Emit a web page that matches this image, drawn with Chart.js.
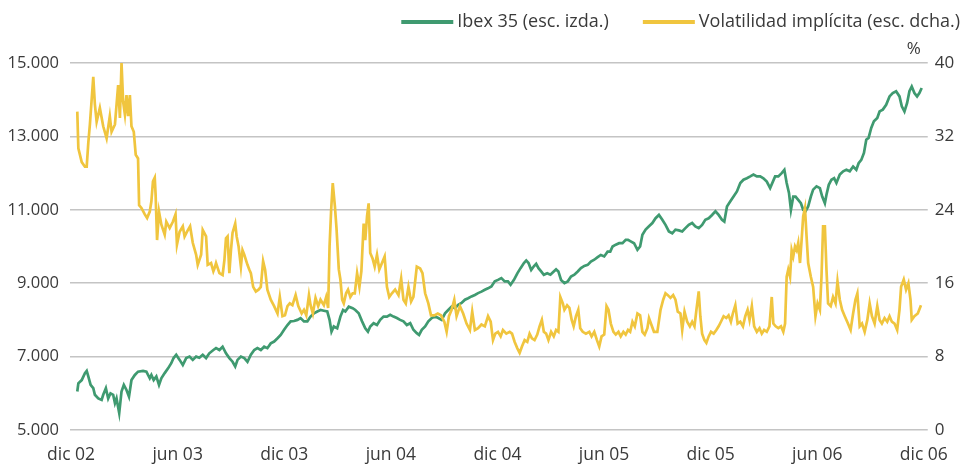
<!DOCTYPE html>
<html lang="es">
<head>
<meta charset="utf-8">
<title>Ibex 35 y volatilidad implícita</title>
<script src="https://cdn.jsdelivr.net/npm/chart.js@4.4.1/dist/chart.umd.min.js"></script>
<style>
  html, body { margin: 0; padding: 0; background: #fff; }
</style>
</head>
<body>
<canvas id="grafico" width="963" height="466"></canvas>
<script>
// Eje X: meses transcurridos desde dic 02
const ibexMes = [
  0.35, 0.41, 0.60, 0.78, 0.88, 0.97, 1.10, 1.25, 1.34, 1.53, 1.72, 1.81, 1.96, 2.09, 2.22, 2.37, 2.47, 2.56, 2.71, 2.84,
  2.97, 3.12, 3.26, 3.40, 3.59, 3.77, 4.05, 4.24, 4.43, 4.52, 4.65, 4.80, 4.95, 5.08, 5.27, 5.46, 5.64, 5.77, 5.92, 6.11,
  6.29, 6.48, 6.67, 6.85, 7.04, 7.22, 7.41, 7.60, 7.78, 8.01,
  8.16, 8.35, 8.53, 8.72, 8.91, 9.09, 9.24, 9.37, 9.56, 9.75, 9.93, 10.12, 10.31, 10.49, 10.68, 10.87, 11.05, 11.24, 11.43, 11.62,
  11.80, 11.99, 12.18, 12.36, 12.55, 12.74, 12.92, 13.11, 13.30, 13.48, 13.67, 13.86, 14.04, 14.23, 14.42, 14.55, 14.66, 14.79, 14.98, 15.16,
  15.31, 15.44, 15.63, 15.85,
  16.00, 16.19, 16.38, 16.56, 16.71, 16.84, 17.03, 17.22, 17.40, 17.59, 17.78, 17.96, 18.15, 18.34, 18.52, 18.71, 18.90, 19.09, 19.27, 19.46,
  19.59, 19.74, 19.93, 20.11, 20.30, 20.49, 20.67, 20.86, 21.05, 21.23, 21.42, 21.61, 21.79, 21.98, 22.17, 22.35, 22.54, 22.73, 22.91, 23.10,
  23.29, 23.47,
  23.66, 23.85, 24.03, 24.22, 24.41, 24.59, 24.74, 24.93, 25.12, 25.30, 25.49, 25.62, 25.75, 25.90, 26.05, 26.18, 26.31, 26.46, 26.61, 26.80,
  26.98, 27.17, 27.30, 27.43, 27.58, 27.77, 27.96, 28.14, 28.33, 28.52, 28.70, 28.89, 29.08, 29.26, 29.45, 29.64, 29.82, 30.01, 30.20, 30.35,
  30.48, 30.66, 30.85, 31.04, 31.22, 31.35,
  31.50, 31.69, 31.88, 32.03, 32.16, 32.34, 32.53, 32.72, 32.90, 33.09, 33.28, 33.46, 33.65, 33.84, 34.02, 34.21, 34.40, 34.58, 34.77, 34.96,
  35.14, 35.33, 35.52, 35.70, 35.89, 36.08, 36.27, 36.45, 36.64, 36.77, 36.92, 37.11, 37.29, 37.48, 37.67, 37.85, 38.04, 38.23, 38.41, 38.60,
  38.79, 38.97, 39.16, 39.35,
  39.63, 39.81, 40.00, 40.15, 40.28, 40.41, 40.52, 40.65, 40.78, 40.93, 41.08, 41.21, 41.34, 41.49, 41.64, 41.77, 41.96, 42.15, 42.28, 42.43,
  42.52, 42.65, 42.80, 42.95, 43.08, 43.27, 43.46, 43.64, 43.83, 44.02, 44.20, 44.33, 44.48, 44.63, 44.76, 44.89, 45.04, 45.19, 45.38, 45.51,
  45.69, 45.88, 46.07, 46.25, 46.44, 46.63, 46.76, 46.91, 47.06, 47.19, 47.32, 47.47, 47.62, 47.75, 47.88
];
const ibex = [
  6050, 6270, 6360, 6550, 6610, 6460, 6230, 6140, 5960, 5860, 5820, 5960, 6140, 5860, 6000, 5960, 5730, 5860, 5460, 6050,
  6230, 6090, 5910, 6360, 6500, 6590, 6610, 6590, 6410, 6500, 6360, 6460, 6230, 6410, 6550, 6680, 6820, 6960, 7050, 6910,
  6770, 6960, 7000, 6910, 7000, 6970, 7050, 6960, 7090, 7180,
  7230, 7180, 7270, 7090, 6960, 6860, 6730, 6910, 7000, 6960, 6860, 7050, 7180, 7230, 7180, 7270, 7230, 7360, 7410, 7500,
  7590, 7730, 7860, 7960, 7970, 8000, 8050, 7960, 7960, 8090, 8180, 8230, 8270, 8250, 8230, 8000, 7680, 7820, 7770, 8090,
  8270, 8230, 8360, 8320,
  8270, 8180, 7960, 7770, 7680, 7820, 7910, 7860, 8000, 8090, 8090, 8140, 8090, 8050, 8000, 7960, 7860, 7910, 7730, 7640,
  7590, 7730, 7820, 7960, 8050, 8090, 8050, 8000, 8180, 8270, 8360, 8320, 8410, 8460, 8550, 8590, 8640, 8680, 8730, 8770,
  8820, 8860,
  8910, 9050, 9090, 9140, 9050, 9050, 8960, 9090, 9270, 9410, 9550, 9620, 9550, 9360, 9460, 9530, 9410, 9320, 9230, 9270,
  9230, 9320, 9380, 9320, 9090, 9000, 9050, 9180, 9230, 9320, 9410, 9470, 9500, 9590, 9640, 9710, 9770, 9730, 9860, 9860,
  10000, 10050, 10090, 10090, 10180, 10180,
  10140, 10090, 9910, 10000, 10320, 10460, 10550, 10640, 10770, 10860, 10730, 10590, 10410, 10360, 10460, 10440, 10410, 10500, 10590, 10640,
  10550, 10500, 10590, 10730, 10770, 10860, 10960, 10860, 10730, 10680, 11090, 11230, 11360, 11500, 11730, 11820, 11860, 11910, 11960, 11910,
  11910, 11860, 11770, 11590,
  11910, 11910, 12000, 12090, 11730, 11460, 11000, 11360, 11360, 11270, 11180, 11000, 10960, 11090, 11360, 11550, 11640, 11590, 11360, 11180,
  11410, 11680, 11820, 11860, 11730, 11960, 12050, 12090, 12050, 12180, 12090, 12270, 12360, 12550, 12910, 12960, 13230, 13410, 13500, 13680,
  13730, 13860, 14090, 14180, 14230, 14090, 13820, 13680, 13910, 14230, 14360, 14180, 14090, 14180, 14320
];

const volMes = [
  0.35, 0.41, 0.60, 0.78, 0.88, 0.97, 1.06, 1.25, 1.34, 1.44, 1.62, 1.81, 2.00, 2.18, 2.28, 2.47, 2.65, 2.75, 2.84, 2.93,
  3.03, 3.12, 3.21, 3.31, 3.40, 3.53, 3.64, 3.77, 3.83, 3.96, 4.15, 4.28, 4.43, 4.52, 4.61, 4.71, 4.76, 4.84, 4.95, 5.08,
  5.27, 5.36, 5.55, 5.73, 5.88, 5.96, 6.11, 6.29, 6.39, 6.52, 6.70, 6.85, 7.04, 7.13, 7.32, 7.41, 7.60, 7.69, 7.88, 8.01,
  8.07, 8.16, 8.35, 8.53, 8.63, 8.72, 8.81, 8.91, 9.00, 9.09, 9.24, 9.32, 9.43, 9.56, 9.65, 9.75, 9.93, 10.03, 10.12, 10.25,
  10.40, 10.55, 10.68, 10.81, 10.92, 11.05, 11.24, 11.43, 11.62, 11.75, 11.90, 12.04, 12.18, 12.31, 12.46, 12.64, 12.79, 12.98, 13.11, 13.24,
  13.39, 13.48, 13.61, 13.76, 13.91, 14.04, 14.23, 14.36, 14.47, 14.55, 14.64, 14.73, 14.85, 14.94, 15.07, 15.16, 15.26, 15.35, 15.48, 15.59,
  15.72, 15.85,
  15.97, 16.10, 16.23, 16.34, 16.47, 16.56, 16.66, 16.75, 16.84, 16.97, 17.09, 17.22, 17.35, 17.50, 17.65, 17.78, 17.91, 18.06, 18.24, 18.43,
  18.58, 18.71, 18.84, 18.99, 19.14, 19.27, 19.46, 19.65, 19.78, 19.93, 20.11, 20.26, 20.45, 20.64, 20.82, 21.01, 21.14, 21.27, 21.42, 21.57,
  21.70, 21.89, 22.07, 22.26, 22.45, 22.58, 22.73, 22.91, 23.10, 23.29, 23.47, 23.62,
  23.75, 23.88, 24.03, 24.18, 24.31, 24.50, 24.69, 24.82, 24.97, 25.12, 25.25, 25.38, 25.53, 25.68, 25.81, 25.94, 26.09, 26.24, 26.37, 26.50,
  26.61, 26.74, 26.87, 27.02, 27.17, 27.30, 27.43, 27.54, 27.68, 27.77, 27.92, 28.05, 28.18, 28.29, 28.42, 28.55, 28.66, 28.80, 28.98, 29.17,
  29.30, 29.45, 29.60, 29.73, 29.86, 30.01, 30.14, 30.25, 30.38, 30.53, 30.66, 30.81, 30.94, 31.09, 31.22, 31.35,
  31.47, 31.60, 31.73, 31.88, 32.03, 32.16, 32.29, 32.44, 32.53, 32.66, 32.81, 33.00, 33.18, 33.33, 33.46, 33.59, 33.74, 33.89, 34.02, 34.15,
  34.30, 34.40, 34.53, 34.68, 34.83, 34.96, 35.09, 35.20, 35.33, 35.42, 35.52, 35.65, 35.76, 35.89, 36.02, 36.17, 36.32, 36.45, 36.58, 36.73,
  36.88, 37.01, 37.14, 37.25, 37.39, 37.52, 37.67, 37.82, 37.95, 38.08, 38.19, 38.32, 38.45, 38.60, 38.75, 38.88, 39.01, 39.16, 39.31, 39.44,
  39.53, 39.66, 39.81, 39.96, 40.09, 40.19, 40.28, 40.37, 40.47, 40.56, 40.65, 40.75, 40.84, 40.93, 41.03, 41.12, 41.21, 41.31, 41.40, 41.49,
  41.64, 41.77, 41.90, 42.02, 42.15, 42.24, 42.33, 42.43, 42.52, 42.61, 42.76, 42.89, 43.03, 43.14, 43.27, 43.40, 43.55, 43.73, 43.88, 44.02,
  44.15, 44.26, 44.39, 44.52, 44.67, 44.82, 44.95, 45.08, 45.23, 45.38, 45.51, 45.64, 45.79, 45.94, 46.07, 46.20, 46.35, 46.50, 46.63, 46.72,
  46.87, 47.00, 47.13, 47.25, 47.32, 47.47, 47.66, 47.84
];
const vol = [
  34.7, 30.7, 29.2, 28.7, 28.7, 31.3, 33.3, 38.5, 35.5, 33.6, 35.1, 33.1, 31.8, 34.2, 32.5, 33.3, 37.6, 34.0, 40.0, 35.8,
  34.4, 36.5, 34.2, 36.5, 33.1, 32.5, 30.0, 29.6, 24.5, 24.2, 23.5, 23.1, 23.8, 24.9, 27.1, 27.5, 25.6, 20.7, 23.8, 22.4,
  21.3, 22.7, 22.0, 22.7, 23.5, 20.2, 21.6, 22.2, 21.1, 21.6, 22.2, 20.4, 19.1, 18.0, 19.1, 21.8, 21.1, 18.0, 18.2, 17.3,
  17.6, 18.2, 17.1, 16.9, 18.5, 20.9, 21.1, 17.1, 19.6, 21.5, 22.5, 21.1, 20.0, 17.8, 19.6, 19.1, 18.0, 17.5, 17.1, 15.6,
  15.1, 15.3, 15.6, 18.4, 17.5, 15.3, 14.2, 13.5, 12.7, 14.5, 12.4, 12.5, 13.5, 13.8, 13.6, 14.7, 13.5, 12.7, 13.1, 12.5,
  14.7, 13.6, 12.7, 14.4, 13.5, 14.2, 13.6, 14.5, 13.3, 20.0, 24.0, 26.9, 24.4, 22.0, 17.5, 16.4, 14.2, 13.8, 14.9, 15.3,
  14.5, 14.9,
  14.9, 17.1, 15.6, 17.3, 22.5, 20.7, 23.3, 24.7, 19.3, 18.7, 17.8, 19.1, 17.5, 18.2, 18.9, 15.6, 14.5, 14.9, 15.3, 14.7,
  16.5, 14.2, 13.8, 15.6, 14.0, 14.5, 17.8, 17.6, 17.1, 14.9, 13.8, 12.5, 12.5, 12.7, 12.5, 11.8, 10.7, 12.4, 13.1, 14.2,
  12.4, 13.5, 12.7, 11.6, 10.9, 12.9, 10.9, 11.1, 11.5, 11.3, 12.4, 11.8,
  9.8, 10.5, 10.7, 10.2, 10.9, 10.5, 10.7, 10.5, 9.6, 8.9, 8.4, 9.1, 9.8, 9.6, 10.5, 10.0, 9.8, 10.4, 11.3, 12.0,
  10.7, 10.5, 9.8, 10.7, 10.2, 10.9, 10.7, 14.5, 13.8, 13.1, 13.6, 13.3, 12.0, 11.3, 12.4, 13.1, 11.1, 10.7, 10.5, 10.7,
  10.2, 10.7, 9.8, 9.1, 10.2, 10.4, 13.5, 13.1, 11.6, 10.7, 10.4, 10.7, 10.2, 10.7, 10.4, 10.9,
  10.7, 11.8, 11.3, 12.7, 12.5, 10.7, 10.4, 11.1, 12.2, 11.5, 10.7, 10.7, 13.1, 14.2, 14.9, 14.7, 14.4, 14.7, 14.2, 12.9,
  12.7, 10.9, 12.9, 11.8, 11.3, 11.8, 11.3, 13.1, 15.1, 12.4, 10.5, 9.8, 9.5, 10.2, 10.7, 10.5, 10.9, 11.3, 11.8, 12.4,
  12.2, 12.5, 11.8, 12.7, 13.6, 11.6, 11.8, 11.3, 12.4, 13.1, 12.0, 13.5, 11.3, 10.7, 11.1, 10.5, 10.9, 10.7, 11.3, 14.5,
  11.6, 11.3, 11.1, 11.3, 10.7, 11.6, 16.7, 17.5, 16.7, 19.6, 18.9, 20.0, 19.6, 20.4, 18.2, 20.7, 23.3, 24.2, 21.1, 18.2,
  16.7, 15.6, 12.4, 13.8, 13.1, 16.7, 22.2, 22.2, 17.5, 13.8, 13.5, 14.5, 13.8, 16.2, 14.2, 13.1, 12.4, 11.6, 10.9, 12.7,
  14.2, 14.9, 11.3, 11.6, 10.7, 12.0, 13.8, 12.4, 11.6, 13.5, 12.0, 11.6, 12.2, 11.8, 12.4, 11.8, 11.6, 10.9, 13.1, 15.6,
  16.4, 15.3, 16.0, 14.2, 12.0, 12.4, 12.7, 13.6
];

const tickMeses = [0, 6, 12, 18, 24, 30, 36, 42, 48];
const tickEtiquetas = ["dic 02", "jun 03", "dic 03", "jun 04", "dic 04", "jun 05", "dic 05", "jun 06", "dic 06"];
const ticksIzda = [5000, 7000, 9000, 11000, 13000, 15000];
const ticksDcha = [0, 8, 16, 24, 32, 40];

const VERDE = "#3f9a70";
const AMARILLO = "#f0c53e";
const TEXTO = "#3a3a3a";
const FUENTE = "'Open Sans', sans-serif";

Chart.defaults.font.family = FUENTE;
Chart.defaults.color = TEXTO;

function miles(v) {
  return String(v).replace(/\B(?=(\d{3})+(?!\d))/g, ".");
}

// leyenda y "%" dibujados encima del área del gráfico
const leyenda = {
  id: "leyenda",
  afterDraw(chart) {
    const ctx = chart.ctx;
    const area = chart.chartArea;
    ctx.save();
    ctx.font = "18px " + FUENTE;
    ctx.fillStyle = TEXTO;
    ctx.textBaseline = "middle";
    ctx.textAlign = "left";
    const y = 22;
    let fin = 960;
    const items = chart.data.datasets.slice().reverse();
    items.forEach(function (ds) {
      const w = ctx.measureText(ds.label).width;
      const tx = fin - w;
      ctx.fillText(ds.label, tx, y);
      ctx.fillStyle = ds.borderColor;
      ctx.fillRect(tx - 56, y - 2, 52, 4);
      ctx.fillStyle = TEXTO;
      fin = tx - 56 - 34;
    });
    ctx.font = "17px " + FUENTE;
    ctx.textAlign = "right";
    ctx.fillText("%", area.right - 7, area.top - 14);
    ctx.restore();
  },
};

new Chart(document.getElementById("grafico"), {
  type: "line",
  data: {
    datasets: [
      {
        label: "Ibex 35 (esc. izda.)",
        data: ibexMes.map((m, i) => ({ x: m, y: ibex[i] })),
        borderColor: VERDE,
        borderWidth: 2.7,
        pointRadius: 0,
        tension: 0,
        yAxisID: "y",
        order: 1,
      },
      {
        label: "Volatilidad implícita (esc. dcha.)",
        data: volMes.map((m, i) => ({ x: m, y: vol[i] })),
        borderColor: AMARILLO,
        borderWidth: 2.7,
        pointRadius: 0,
        tension: 0,
        yAxisID: "y1",
        order: 0,
      },
    ],
  },
  options: {
    responsive: false,
    animation: false,
    events: [],
    layout: { padding: { top: 63, left: 0, right: 0, bottom: 0 } },
    plugins: {
      legend: { display: false },
      tooltip: { enabled: false },
    },
    scales: {
      x: {
        type: "linear",
        min: -0.06,
        max: 48.22,
        afterBuildTicks: (axis) => {
          axis.ticks = tickMeses.map((v) => ({ value: v }));
        },
        afterFit: (axis) => {
          axis.height = 36;
        },
        grid: { display: false, drawTicks: false },
        border: { display: false },
        ticks: {
          autoSkip: false,
          maxRotation: 0,
          padding: 15,
          font: { size: 17.5 },
          color: TEXTO,
          callback: (v) => tickEtiquetas[tickMeses.indexOf(v)],
        },
      },
      y: {
        position: "left",
        min: ticksIzda[0],
        max: ticksIzda[ticksIzda.length - 1],
        afterFit: (axis) => {
          axis.width = 70;
        },
        grid: { color: "#c4c4c4", lineWidth: 1.5, drawTicks: false },
        border: { display: false },
        ticks: {
          stepSize: ticksIzda[1] - ticksIzda[0],
          padding: 11,
          font: { size: 16.5 },
          color: TEXTO,
          callback: (v) => miles(v),
        },
      },
      y1: {
        position: "right",
        min: ticksDcha[0],
        max: ticksDcha[ticksDcha.length - 1],
        afterFit: (axis) => {
          axis.width = 31;
        },
        grid: { display: false, drawTicks: false },
        border: { display: false },
        ticks: {
          stepSize: ticksDcha[1] - ticksDcha[0],
          padding: 7,
          font: { size: 17 },
          color: TEXTO,
        },
      },
    },
  },
  plugins: [leyenda],
});
</script>
</body>
</html>
